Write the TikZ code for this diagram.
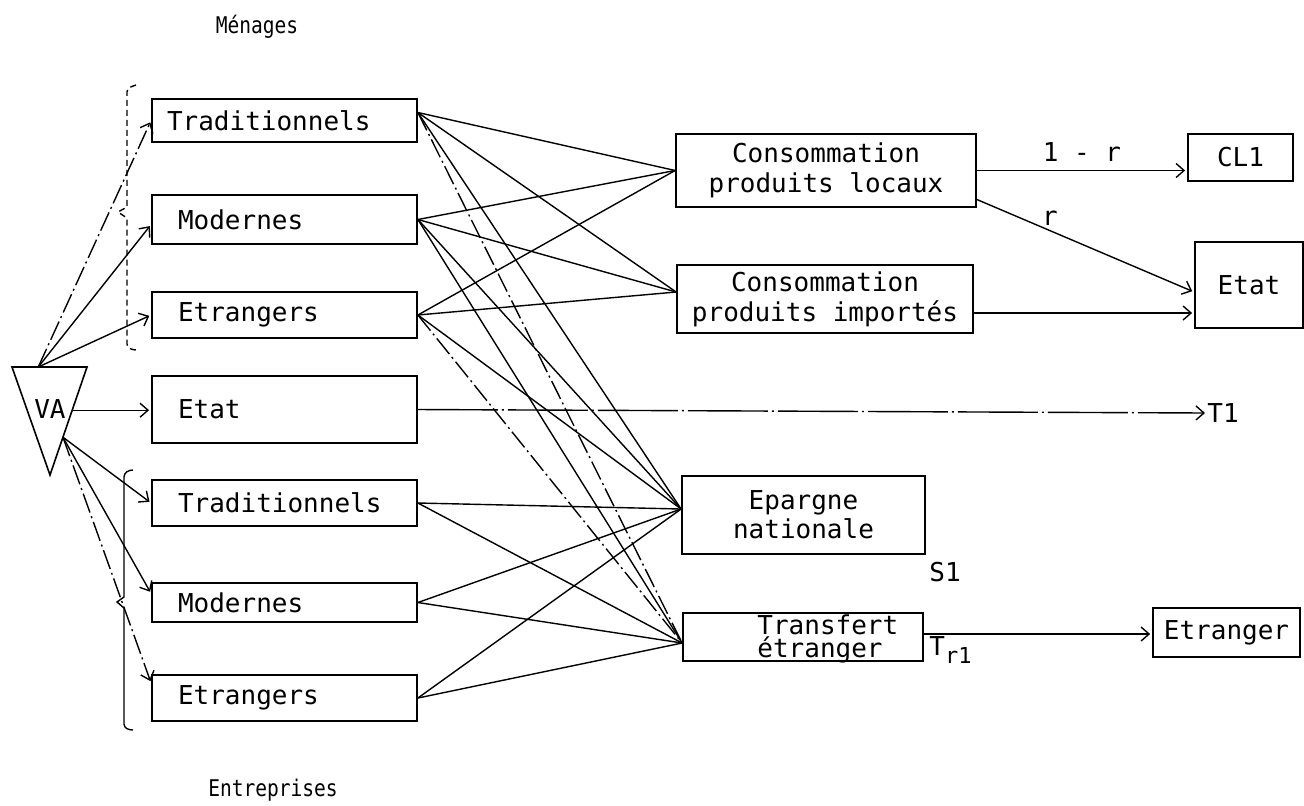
\documentclass[tikz,border=0pt]{standalone}
\usepackage{fontspec}
\newfontfamily\monof{DejaVu Sans Mono}
\newfontfamily\monon[FakeStretch=0.85]{DejaVu Sans Mono}
\usetikzlibrary{arrows.meta,calc}
\begin{document}
\begin{tikzpicture}[x=0.5pt,y=-0.5pt,
  font=\monof\fontsize{13}{15}\selectfont,
  lbox/.style={draw, line width=0.9pt, inner ysep=0pt, inner xsep=13pt, text width=106.5pt, align=left},
  rbox/.style={draw, line width=0.9pt, inner sep=0pt, align=center},
  conn/.style={line width=0.7pt},
  arr/.style={conn, -{Straight Barb[length=4pt,width=7pt]}, shorten >=1pt},
  dd/.style={dash pattern=on 10pt off 2pt on 1pt off 2pt},
  ddlong/.style={dash pattern=on 40pt off 2pt on 1pt off 2pt},
  brk/.style={line width=0.7pt},
  lab/.style={inner sep=0pt},
  title/.style={lab, font=\monon\fontsize{11.5}{13}\selectfont}]
\useasboundingbox (0,0) rectangle (1304,805);

% titles
\node[title] (menages) at (257,27) {Ménages};
\node[title] (entreprises) at (273,790) {Entreprises};

% left column
\node[lbox, minimum height=21.5pt, inner xsep=7.5pt, text width=117.5pt] (l1) at (284.5,120.5) {Traditionnels};
\node[lbox, minimum height=24.5pt] (l2) at (284.5,219.5) {Modernes};
\node[lbox, minimum height=23pt] (l3) at (284.5,315) {Etrangers};
\node[lbox, minimum height=33.5pt] (et1) at (284.5,409.5) {Etat};
\node[lbox, minimum height=23pt] (e1) at (284.5,503) {Traditionnels};
\node[lbox, minimum height=19.5pt] (e2) at (284.5,602.5) {Modernes};
\node[lbox, minimum height=23pt] (e3) at (284.5,698) {Etrangers};

% brackets
\draw[brk, densely dashed] (136,85) to[out=200,in=90] (127,92) -- (127,207) -- (118,212) -- (127,218) -- (127,344) to[out=-90,in=180] (137,350);
\draw[brk] (133,470) to[out=180,in=90] (124,477) -- (124,597) -- (117,602) -- (124,608) -- (124,724) to[out=-90,in=180] (133,730);

% VA triangle
\coordinate (vA) at (12,367);
\coordinate (vB) at (87,367);
\coordinate (vC) at (50,475);
\draw[line width=0.8pt] (vA) -- (vB) -- (vC) -- cycle;
\node[lab] (va) at (50,409) {VA};
\coordinate (vat) at ($(vA)!0.35!(vB)$);
\coordinate (var) at ($(vB)!0.4!(vC)$);
\coordinate (vab) at ($(vB)!0.65!(vC)$);

\draw[arr, dd] (vat) -- (l1.west);
\draw[arr] (vat) -- ([yshift=-2.5pt]l2.west);
\draw[arr] (vat) -- (l3.west);
\draw[arr] (var) -- (var -| et1.west);
\draw[arr] (vab) -- (e1.west);
\draw[arr] (vab) -- ([yshift=4.5pt]e2.west);
\draw[arr, dd] (vab) -- ([yshift=7.5pt]e3.west);

% right boxes
\node[rbox, minimum width=150pt, minimum height=36.5pt] (cpl) at (826,170.5) {Consommation\\produits locaux};
\node[rbox, minimum width=148pt, minimum height=34pt] (cpi) at (825,299) {Consommation\\produits importés};
\node[rbox, minimum width=121.5pt, minimum height=39pt, font=\monof\fontsize{13}{14.5}\selectfont] (ep) at (803.5,515) {Epargne\\nationale};
\node[rbox, minimum width=120pt, minimum height=24pt] (tra) at (803,637) {};
\node[lab, anchor=west, align=left, font=\monof\fontsize{13}{10}\selectfont] (tratxt) at (757,639) {Transfert\\étranger};
\node[rbox, minimum width=52.5pt, minimum height=23.5pt] (cl1) at (1240.5,157.5) {CL1};
\node[rbox, minimum width=54pt, minimum height=43pt] (et2) at (1249,285) {Etat};
\node[rbox, minimum width=73.5pt, minimum height=24.5pt] (etr) at (1226.5,632.5) {Etranger};

% labels
\node[lab] (s1) at (945,572) {S1};
\node[lab, anchor=west] (tr1) at (929,650) {T\raisebox{-4pt}{\fontsize{11}{11}\selectfont r1}};
\node[lab, anchor=west] (t1) at (1207,413) {T1};

% middle connections: households
\foreach \s/\o in {l1/4pt, l2/0pt, l3/0pt}{
  \draw[conn] ([yshift=\o]\s.east) -- (cpl.west);
  \draw[conn] ([yshift=\o]\s.east) -- ([yshift=3.5pt]cpi.west);
  \draw[conn] ([yshift=\o]\s.east) -- ([yshift=3pt]ep.west);
}
\draw[conn, dd] ([yshift=4pt]l1.east) -- ([yshift=-3pt]tra.west);
\draw[conn] (l2.east) -- ([yshift=-3pt]tra.west);
\draw[conn, dd] (l3.east) -- ([yshift=-3pt]tra.west);
% enterprises
\foreach \s in {e1, e2, e3}{
  \draw[conn] (\s.east) -- ([yshift=3pt]ep.west);
  \draw[conn] (\s.east) -- ([yshift=-3pt]tra.west);
}

% right arrows
\draw[arr] (cpl.east) -- (cpl.east -| cl1.west) node[midway, above=4pt, lab] (lr) {1 - r};
\draw[arr] ([yshift=-14.5pt]cpl.east) -- ([yshift=-3.5pt]et2.west);
\node[lab] (rlab) at (1050,218) {r};
\draw[arr] ([yshift=-7pt]cpi.east) -- ([yshift=-7pt]cpi.east -| et2.west);
\draw[arr, ddlong] (et1.east) -- (t1.west);
\draw[arr] ([yshift=1.5pt]tra.east) -- ([yshift=1.5pt]tra.east -| etr.west);
\end{tikzpicture}
\end{document}
